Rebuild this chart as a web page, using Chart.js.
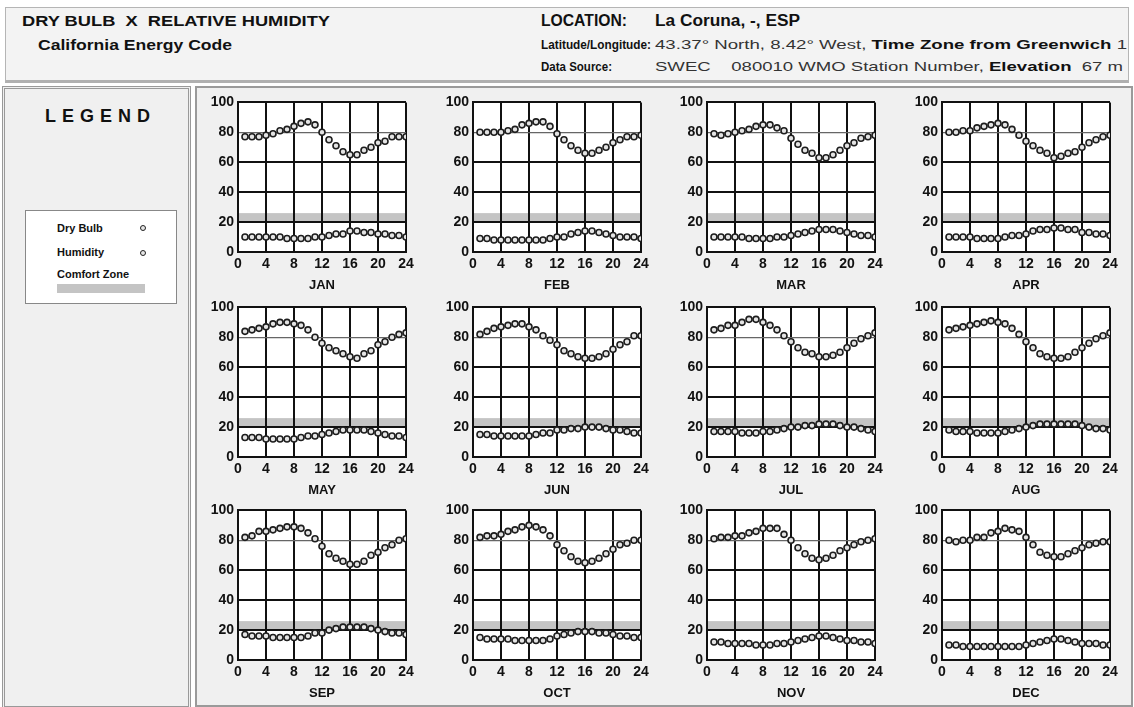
<!DOCTYPE html>
<html>
<head>
<meta charset="utf-8">
<script src="https://cdn.jsdelivr.net/npm/chart.js@4.4.1/dist/chart.umd.min.js"></script>
<style>
  body { margin:0; width:1134px; height:707px; background:#fff; font-family:"Liberation Sans", Arial, sans-serif; position:relative; overflow:hidden; }
  #header { position:absolute; left:5px; top:7px; width:1122px; height:72px; background:#f3f3f3; border:1px solid #b5b5b5; border-bottom:3px solid #b0b0b0; }
  .t { position:absolute; white-space:nowrap; color:#111; transform-origin:0 0; }
  #leftPanel { position:absolute; left:2px; top:86px; width:183px; height:617px; background:#f0f0f0; border:3px double #999; }
  #mainPanel { position:absolute; left:195px; top:86px; width:934px; height:617px; background:#f0f0f0; border:2px solid #9a9a9a; }
  #legendBox { position:absolute; left:20px; top:121px; width:150px; height:92px; background:#fff; border:1px solid #888; }
  .dot { position:absolute; width:4px; height:4px; border-radius:50%; border:1.5px solid #222; background:#e6e6e6; }
  canvas { position:absolute; }
</style>
</head>
<body>
<div id="header">
  <div class="t" data-w="308" style="left:16px;top:4px;font-size:15px;font-weight:bold;">DRY BULB&nbsp; X&nbsp; RELATIVE HUMIDITY</div>
  <div class="t" data-w="194" style="left:32px;top:28px;font-size:15px;font-weight:bold;">California Energy Code</div>
  <div class="t" data-w="86" style="left:535px;top:4px;font-size:16px;font-weight:bold;">LOCATION:</div>
  <div class="t" data-w="145" style="left:649px;top:4px;font-size:16px;font-weight:bold;">La Coruna, -, ESP</div>
  <div class="t" data-w="110" style="left:535px;top:29px;font-size:13px;font-weight:bold;">Latitude/Longitude:</div>
  <div class="t" data-w="472" style="left:649px;top:29px;font-size:13px;color:#333;">43.37° North, 8.42° West, <b style="color:#111">Time Zone from Greenwich</b> 1</div>
  <div class="t" data-w="71" style="left:535px;top:51px;font-size:13px;font-weight:bold;">Data Source:</div>
  <div class="t" data-w="468" style="left:649px;top:51px;font-size:13px;color:#333;">SWEC&nbsp;&nbsp;&nbsp; 080010 WMO Station Number, <b style="color:#111">Elevation</b>&nbsp; 67 m</div>
</div>
<div id="leftPanel">
  <div class="t" style="left:40px;top:17px;font-size:18px;font-weight:bold;letter-spacing:6px;">LEGEND</div>
  <div id="legendBox">
    <div class="t" style="left:31px;top:11px;font-size:11px;font-weight:bold;">Dry Bulb</div>
    <div class="dot" style="left:114px;top:14px;"></div>
    <div class="t" style="left:31px;top:35px;font-size:11px;font-weight:bold;">Humidity</div>
    <div class="dot" style="left:114px;top:39px;"></div>
    <div class="t" style="left:31px;top:57px;font-size:11px;font-weight:bold;">Comfort Zone</div>
    <div style="position:absolute;left:31px;top:73px;width:88px;height:9px;background:#c4c4c4;"></div>
  </div>
</div>
<div id="mainPanel"></div>
<script>
// hours of the day
const hours = [1,2,3,4,5,6,7,8,9,10,11,12,13,14,15,16,17,18,19,20,21,22,23,24];
const months = ['JAN','FEB','MAR','APR','MAY','JUN','JUL','AUG','SEP','OCT','NOV','DEC'];
const xTicks = [0,4,8,12,16,20,24];
const yTicks = [0,20,40,60,80,100];
const comfortLow = 20;
const comfortHigh = 26;

// dry bulb (deg C), one row per month
const dryBulb = [
  [10,10,10,10,10,10,9,9,9,9,10,10,11,12,12,14,14,13,13,12,12,11,11,10],
  [9,9,8,8,8,8,8,8,8,8,9,10,10,12,13,14,14,13,12,11,10,10,10,9],
  [10,10,10,10,10,9,9,9,9,10,10,11,12,13,14,15,15,15,14,13,12,11,11,10],
  [10,10,10,10,9,9,9,9,10,11,11,12,14,15,15,16,16,15,15,13,13,12,12,11],
  [13,13,13,12,12,12,12,12,13,14,14,15,16,17,18,18,18,18,17,16,15,14,14,13],
  [15,15,14,14,14,14,14,14,15,16,16,18,18,19,19,20,20,20,19,18,18,17,16,16],
  [17,17,17,17,16,16,16,17,17,18,19,20,20,21,21,22,22,22,21,20,20,19,18,17],
  [18,17,17,17,16,16,16,16,17,18,19,20,21,22,22,22,22,22,22,21,20,19,19,18],
  [17,16,16,16,15,15,15,15,15,16,18,18,20,21,22,22,22,22,21,20,19,18,18,17],
  [15,14,14,14,14,13,13,13,13,13,14,16,17,18,19,19,19,18,18,17,16,16,15,15],
  [12,12,11,11,11,11,10,10,10,11,11,12,13,14,15,16,16,15,14,13,13,12,12,11],
  [10,10,9,9,9,9,9,9,9,9,9,10,11,12,13,14,14,13,12,11,11,11,10,10]
];

// relative humidity (%), one row per month
const humidity = [
  [77,77,77,78,79,81,82,84,86,87,85,80,75,71,67,65,65,68,70,73,74,77,77,77],
  [80,80,80,80,81,82,85,86,87,87,84,79,75,71,68,66,66,68,70,73,75,77,77,78],
  [79,78,79,80,81,82,84,85,85,83,81,76,72,68,66,63,63,65,68,71,73,76,77,78],
  [80,80,81,81,83,84,85,86,85,82,78,74,71,68,66,63,64,66,67,70,73,75,77,78],
  [84,85,86,87,89,90,90,89,88,85,80,76,73,71,69,67,66,69,71,75,77,80,82,83],
  [82,84,86,87,88,89,89,87,85,81,78,75,71,69,67,66,66,67,69,72,75,77,81,81],
  [85,86,88,88,90,92,92,90,88,85,81,77,73,70,69,67,67,68,70,73,76,79,81,83],
  [85,86,87,88,89,90,91,90,89,86,82,77,73,69,67,66,66,67,70,73,76,79,81,83],
  [82,83,86,86,87,88,89,89,88,85,81,76,71,68,66,64,64,66,70,72,75,77,80,81],
  [82,83,83,84,86,87,89,90,89,87,83,77,73,69,66,65,66,68,71,74,77,78,80,80],
  [81,82,82,83,83,85,86,88,88,88,84,80,75,71,68,67,68,70,73,75,77,79,80,81],
  [80,79,80,80,82,82,85,86,88,87,86,82,77,72,70,69,69,71,73,75,77,78,79,79]
];

// stretch header texts to the widths they have in the original
document.querySelectorAll('[data-w]').forEach(function(el) {
  var w = el.getBoundingClientRect().width;
  el.style.transform = 'scaleX(' + (el.dataset.w / w) + ')';
});

// plot-area corners for the 4x3 grid of panels
const colLeft = [238, 473, 707, 942];
const rowTop = [100, 305, 508];
const plotW = 168, plotH = 152;
const padL = 45, padT = 10, padR = 14, padB = 45;

// white plot background + comfort band drawn under the grid
const bandPlugin = {
  id: 'band',
  beforeDraw(chart) {
    const a = chart.chartArea, y = chart.scales.y, c = chart.ctx;
    c.save();
    c.fillStyle = '#fff';
    c.fillRect(a.left, a.top, a.right - a.left, a.bottom - a.top);
    const top = y.getPixelForValue(comfortHigh), bot = y.getPixelForValue(comfortLow);
    c.fillStyle = '#c4c4c4';
    c.fillRect(a.left, top, a.right - a.left, bot - top);
    c.restore();
  }
};

function pts(arr) {
  return arr.map((v, i) => ({x: hours[i], y: v}));
}

var tickFont = {family: '"Liberation Sans", Arial, sans-serif', size: 14, weight: 'bold'};

months.forEach(function(m, i) {
  var cv = document.createElement('canvas');
  var left = colLeft[i % 4] - padL, top = rowTop[Math.floor(i / 4)] - padT;
  cv.width = plotW + padL + padR;
  cv.height = plotH + padT + padB;
  cv.style.left = left + 'px';
  cv.style.top = top + 'px';
  document.body.appendChild(cv);

  var pointStyle = {
    showLine: false,
    pointRadius: 3,
    pointBorderWidth: 1.6,
    pointBorderColor: '#1e1e1e',
    pointBackgroundColor: '#e4e4e4'
  };

  new Chart(cv.getContext('2d'), {
    type: 'scatter',
    data: {
      datasets: [
        Object.assign({label: 'Dry Bulb', data: pts(dryBulb[i])}, pointStyle),
        Object.assign({label: 'Humidity', data: pts(humidity[i])}, pointStyle)
      ]
    },
    options: {
      responsive: false,
      animation: false,
      devicePixelRatio: 1,
      layout: {padding: {left: 0, top: padT, right: padR, bottom: 0}},
      plugins: {legend: {display: false}, tooltip: {enabled: false}},
      scales: {
        x: {
          type: 'linear', min: 0, max: 24,
          afterBuildTicks: s => { s.ticks = xTicks.map(v => ({value: v})); },
          afterFit: s => { s.height = padB; },
          grid: {color: '#111', lineWidth: 2, drawTicks: false},
          border: {color: '#111', width: 2},
          ticks: {color: '#111', font: tickFont, padding: 4, maxRotation: 0},
          title: {display: true, text: m, color: '#111', font: {family: tickFont.family, size: 13, weight: 'bold'}, padding: {top: 2, bottom: 4}}
        },
        y: {
          min: 0, max: 100,
          afterBuildTicks: s => { s.ticks = yTicks.map(v => ({value: v})); },
          afterFit: s => { s.width = padL; },
          grid: {
            color: c => (c.tick && c.tick.value === 80) ? '#666' : '#111',
            lineWidth: c => (c.tick && c.tick.value === 80) ? 1.2 : 2,
            drawTicks: false
          },
          border: {color: '#111', width: 2},
          ticks: {color: '#111', font: tickFont, padding: 4}
        }
      }
    },
    plugins: [bandPlugin]
  });
});
</script>
</body>
</html>
